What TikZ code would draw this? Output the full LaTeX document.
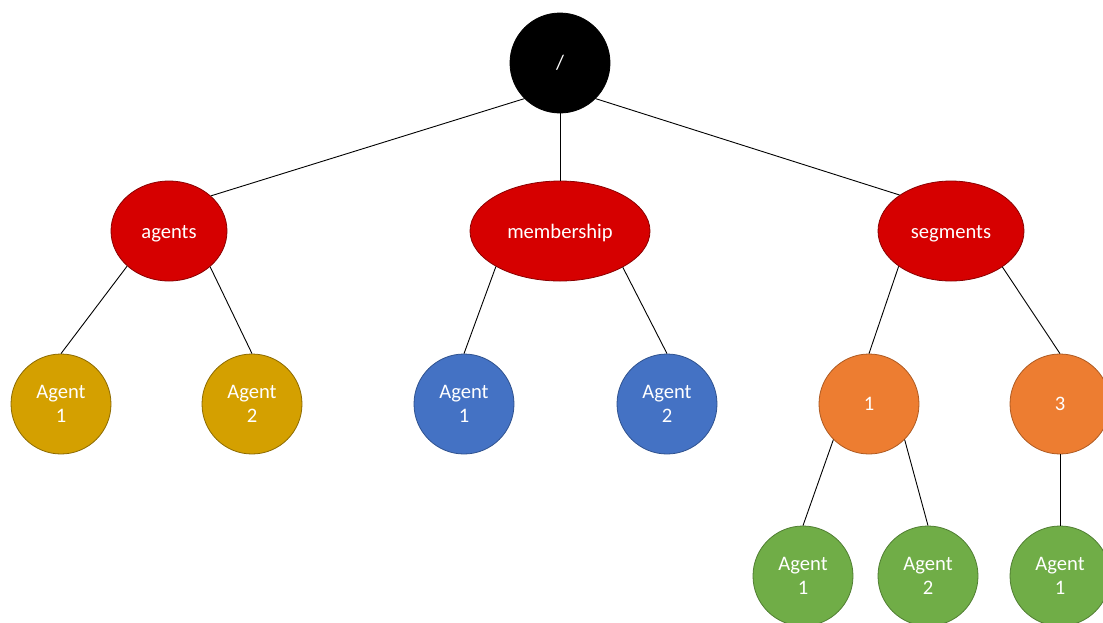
\documentclass[tikz,border=0pt]{standalone}
\usepackage{fontspec}
\setmainfont{Carlito}
\usetikzlibrary{shapes.geometric}

\definecolor{rootfill}{HTML}{000000}
\definecolor{redfill}{HTML}{D60000}
\definecolor{redline}{HTML}{8A0000}
\definecolor{goldfill}{HTML}{D4A000}
\definecolor{goldline}{HTML}{8C6A00}
\definecolor{bluefill}{HTML}{4472C4}
\definecolor{blueline}{HTML}{2F528F}
\definecolor{orangefill}{HTML}{ED7D31}
\definecolor{orangeline}{HTML}{AE5A21}
\definecolor{greenfill}{HTML}{70AD47}
\definecolor{greenline}{HTML}{507E32}

\tikzset{
  label font/.style={font=\fontsize{20.6}{24.6}\selectfont, text=white, align=center},
  ball/.style={circle, minimum size=100pt, inner sep=0pt, line width=0.8pt, label font},
  oval/.style={ellipse, minimum height=100pt, inner sep=0pt, line width=0.8pt, label font,
               text height=15pt, text depth=1pt},
  rootnode/.style={ball, fill=rootfill, draw=black},
  dirnode/.style={oval, fill=redfill, draw=redline},
  goldnode/.style={ball, fill=goldfill, draw=goldline},
  bluenode/.style={ball, fill=bluefill, draw=blueline},
  orangenode/.style={ball, fill=orangefill, draw=orangeline},
  greennode/.style={ball, fill=greenfill, draw=greenline},
  edge/.style={draw=black, line width=0.9pt}
}

\begin{document}
\begin{tikzpicture}[x=1pt, y=-1pt]
  \useasboundingbox (0,0) rectangle (1103,622);
  \clip (0,0) rectangle (1103,622);

  % root
  \node[rootnode] (root) at (560,63) {/};

  % second level
  \node[dirnode, minimum width=116pt] (agents) at (169,231) {agents};
  \node[dirnode, minimum width=180pt] (membership) at (560,231) {membership};
  \node[dirnode, minimum width=146pt] (segments) at (951,231) {segments};

  % third level
  \node[goldnode] (ag1) at (61,404) {Agent\\1};
  \node[goldnode] (ag2) at (252,404) {Agent\\2};
  \node[bluenode] (mb1) at (464,404) {Agent\\1};
  \node[bluenode] (mb2) at (667,404) {Agent\\2};
  \node[orangenode] (sg1) at (869,404) {1};
  \node[orangenode] (sg3) at (1060,404) {3};

  % fourth level
  \node[greennode] (s1a1) at (803,576) {Agent\\1};
  \node[greennode] (s1a2) at (928,576) {Agent\\2};
  \node[greennode] (s3a1) at (1060,576) {Agent\\1};

  % connectors
  \draw[edge] (root.225) -- (agents.40.76);
  \draw[edge] (root.south) -- (membership.north);
  \draw[edge] (root.315) -- (segments.145.59);

  \draw[edge] (agents.220.76) -- (ag1.north);
  \draw[edge] (agents.319.24) -- (ag2.north);
  \draw[edge] (membership.209.05) -- (mb1.north);
  \draw[edge] (membership.330.95) -- (mb2.north);
  \draw[edge] (segments.214.41) -- (sg1.north);
  \draw[edge] (segments.325.59) -- (sg3.north);

  \draw[edge] (sg1.225) -- (s1a1.north);
  \draw[edge] (sg1.315) -- (s1a2.north);
  \draw[edge] (sg3.south) -- (s3a1.north);
\end{tikzpicture}
\end{document}
